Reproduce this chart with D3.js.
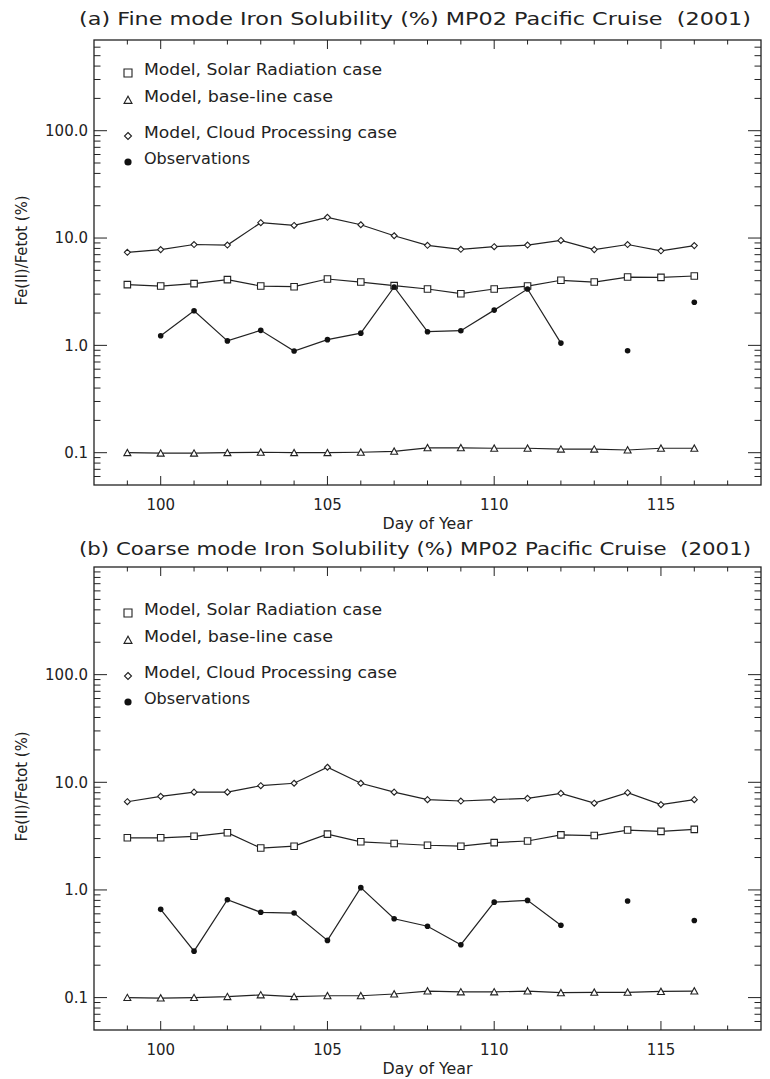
<!DOCTYPE html>
<html>
<head>
<meta charset="utf-8">
<script src="https://cdn.jsdelivr.net/npm/d3@7"></script>
<style>
  html, body { margin: 0; padding: 0; background: #fff; }
  svg { display: block; }
  text { font-family: "DejaVu Sans", "Liberation Sans", sans-serif; fill: #222; }
</style>
</head>
<body>
<svg id="chart" width="770" height="1079"></svg>
<script>
// Days of year sampled along the MP02 cruise track
const days = [99, 100, 101, 102, 103, 104, 105, 106, 107, 108, 109, 110, 111, 112, 113, 114, 115, 116];
// Observation days (null = no sample)
const obsDays = [100, 101, 102, 103, 104, 105, 106, 107, 108, 109, 110, 111, 112, 113, 114, 115, 116];

// (a) Fine mode, Fe(II)/Fetot in %
const fineCloud = [7.36, 7.8, 8.7, 8.6, 13.9, 13.1, 15.6, 13.3, 10.5, 8.55, 7.85, 8.3, 8.6, 9.5, 7.8, 8.7, 7.6, 8.5];
const fineSolar = [3.68, 3.57, 3.76, 4.1, 3.57, 3.52, 4.15, 3.89, 3.6, 3.35, 3.03, 3.35, 3.57, 4.04, 3.89, 4.33, 4.3, 4.43];
const fineBase  = [0.1, 0.099, 0.099, 0.1, 0.101, 0.1, 0.1, 0.101, 0.103, 0.111, 0.111, 0.11, 0.11, 0.108, 0.108, 0.106, 0.11, 0.11];
const fineObs   = [1.23, 2.1, 1.1, 1.38, 0.885, 1.13, 1.3, 3.5, 1.34, 1.37, 2.13, 3.35, 1.05, null, 0.89, null, 2.52];

// (b) Coarse mode, Fe(II)/Fetot in %
const coarseCloud = [6.6, 7.4, 8.1, 8.1, 9.3, 9.8, 13.8, 9.8, 8.1, 6.9, 6.7, 6.9, 7.1, 7.9, 6.4, 8.0, 6.2, 6.9];
const coarseSolar = [3.05, 3.05, 3.15, 3.4, 2.45, 2.55, 3.3, 2.8, 2.7, 2.6, 2.55, 2.75, 2.85, 3.25, 3.2, 3.6, 3.5, 3.65];
const coarseBase  = [0.1, 0.099, 0.1, 0.102, 0.106, 0.102, 0.104, 0.104, 0.108, 0.115, 0.113, 0.113, 0.115, 0.111, 0.112, 0.112, 0.114, 0.115];
const coarseObs   = [0.66, 0.27, 0.81, 0.62, 0.61, 0.34, 1.05, 0.54, 0.46, 0.31, 0.77, 0.8, 0.47, null, 0.79, null, 0.52];

// Axis tick values and labels
const xMajorTicks = [100, 105, 110, 115];
const yMajorTicks = [0.1, 1, 10, 100];
const yTickLabels = ["0.1", "1.0", "10.0", "100.0"];

const legendLabels = ["Model, Solar Radiation case", "Model, base-line case", "Model, Cloud Processing case", "Observations"];

// Each panel: its frame (page pixels) and its y range
const panels = [
  { title: "(a) Fine mode Iron Solubility (%) MP02 Pacific Cruise\u00a0\u00a0(2001)",
    cloud: fineCloud, solar: fineSolar, base: fineBase, obs: fineObs,
    top: 40, bottom: 485, yDomain: [0.05, 700], titleY: 25, legendOffset: 0 },
  { title: "(b) Coarse mode Iron Solubility (%) MP02 Pacific Cruise\u00a0\u00a0(2001)",
    cloud: coarseCloud, solar: coarseSolar, base: coarseBase, obs: coarseObs,
    top: 567, bottom: 1030, yDomain: [0.05, 1000], titleY: 555, legendOffset: 540 }
];

const svg = d3.select("#chart");
const ink = "#222";
const left = 94, right = 761;

const x = d3.scaleLinear().domain([98, 118]).range([left, right]);

// Marker path generators
function squarePath(s) { const h = s / 2; return `M${-h},${-h}H${h}V${h}H${-h}Z`; }
function trianglePath(s) { const h = s / 2; return `M${-h},${h * 0.85}L0,${-h * 0.95}L${h},${h * 0.85}Z`; }
function diamondPath(s) { const h = s / 2; return `M0,${-h}L${h},0L0,${h}L${-h},0Z`; }

function drawPanel(p) {
  const g = svg.append("g");
  const y = d3.scaleLog().domain(p.yDomain).range([p.bottom, p.top]);

  // Title
  g.append("text")
    .attr("x", 415)
    .attr("y", p.titleY)
    .attr("text-anchor", "middle")
    .attr("font-size", 18)
    .attr("textLength", 672)
    .attr("lengthAdjust", "spacingAndGlyphs")
    .text(p.title);

  // Plot frame
  g.append("rect")
    .attr("x", left).attr("y", p.top)
    .attr("width", right - left).attr("height", p.bottom - p.top)
    .attr("fill", "none").attr("stroke", ink).attr("stroke-width", 1.3);

  // X ticks (inward on bottom and top)
  const xMinor = d3.range(99, 118).filter(d => !xMajorTicks.includes(d));
  const xt = g.append("g").attr("stroke", ink).attr("stroke-width", 1);
  xMajorTicks.forEach(d => {
    xt.append("line").attr("x1", x(d)).attr("x2", x(d)).attr("y1", p.bottom).attr("y2", p.bottom - 9);
    xt.append("line").attr("x1", x(d)).attr("x2", x(d)).attr("y1", p.top).attr("y2", p.top + 9);
  });
  xMinor.forEach(d => {
    xt.append("line").attr("x1", x(d)).attr("x2", x(d)).attr("y1", p.bottom).attr("y2", p.bottom - 4.5);
    xt.append("line").attr("x1", x(d)).attr("x2", x(d)).attr("y1", p.top).attr("y2", p.top + 4.5);
  });
  xMajorTicks.forEach(d => {
    g.append("text").attr("x", x(d)).attr("y", p.bottom + 25)
      .attr("text-anchor", "middle").attr("font-size", 15).text(d);
  });
  g.append("text").attr("x", (left + right) / 2).attr("y", p.bottom + 44)
    .attr("text-anchor", "middle").attr("font-size", 15)
    .attr("textLength", 90).attr("lengthAdjust", "spacingAndGlyphs").text("Day of Year");

  // Y ticks (log decades with minor ticks)
  const yMinor = [];
  [0.01, 0.1, 1, 10, 100].forEach(dec => {
    for (let k = 2; k <= 9; k++) {
      const v = dec * k;
      if (v > p.yDomain[0] && v < p.yDomain[1]) yMinor.push(v);
    }
  });
  const yt = g.append("g").attr("stroke", ink).attr("stroke-width", 1);
  yMajorTicks.forEach(v => {
    yt.append("line").attr("x1", left).attr("x2", left + 13).attr("y1", y(v)).attr("y2", y(v));
    yt.append("line").attr("x1", right).attr("x2", right - 13).attr("y1", y(v)).attr("y2", y(v));
  });
  yMinor.forEach(v => {
    yt.append("line").attr("x1", left).attr("x2", left + 6.5).attr("y1", y(v)).attr("y2", y(v));
    yt.append("line").attr("x1", right).attr("x2", right - 6.5).attr("y1", y(v)).attr("y2", y(v));
  });
  yMajorTicks.forEach((v, k) => {
    g.append("text").attr("x", left - 6).attr("y", y(v))
      .attr("dy", "0.35em").attr("text-anchor", "end").attr("font-size", 15).text(yTickLabels[k]);
  });
  g.append("text")
    .attr("transform", `translate(27,${(p.top + p.bottom) / 2 - 12}) rotate(-90)`)
    .attr("text-anchor", "middle").attr("font-size", 15)
    .attr("textLength", 110).attr("lengthAdjust", "spacingAndGlyphs").text("Fe(II)/Fetot (%)");

  // Series lines
  const line = d3.line().defined(d => d.v != null).x(d => x(d.day)).y(d => y(d.v));
  const toPts = (ds, vs) => ds.map((d, k) => ({ day: d, v: vs[k] }));
  const series = [
    { pts: toPts(days, p.cloud), shape: diamondPath, size: 6 },
    { pts: toPts(days, p.solar), shape: squarePath, size: 6.5 },
    { pts: toPts(days, p.base), shape: trianglePath, size: 7 }
  ];
  series.forEach(s => {
    g.append("path").attr("d", line(s.pts)).attr("fill", "none")
      .attr("stroke", ink).attr("stroke-width", 1.2);
    g.selectAll(null).data(s.pts).enter().append("path")
      .attr("transform", d => `translate(${x(d.day)},${y(d.v)})`)
      .attr("d", s.shape(s.size))
      .attr("fill", "#fff").attr("stroke", ink).attr("stroke-width", 1.1);
  });
  const obsPts = toPts(obsDays, p.obs);
  g.append("path").attr("d", line(obsPts)).attr("fill", "none")
    .attr("stroke", ink).attr("stroke-width", 1.2);
  g.selectAll(null).data(obsPts.filter(d => d.v != null)).enter().append("circle")
    .attr("cx", d => x(d.day)).attr("cy", d => y(d.v)).attr("r", 2.8).attr("fill", "#111");

  // Legend
  const legY = [70, 97, 133, 159];
  const legW = [238, 189, 253, 106];
  const legShapes = [squarePath(8), trianglePath(8), diamondPath(7), null];
  legendLabels.forEach((lab, k) => {
    const ly = legY[k] + p.legendOffset;
    if (legShapes[k]) {
      g.append("path").attr("transform", `translate(128,${ly + 3})`).attr("d", legShapes[k])
        .attr("fill", "none").attr("stroke", ink).attr("stroke-width", 1.1);
    } else {
      g.append("circle").attr("cx", 128).attr("cy", ly + 3).attr("r", 3.6).attr("fill", "#111");
    }
    g.append("text").attr("x", 144).attr("y", ly + 5).attr("font-size", 16)
      .attr("textLength", legW[k]).attr("lengthAdjust", "spacingAndGlyphs").text(lab);
  });
}

panels.forEach(drawPanel);
</script>
</body>
</html>
